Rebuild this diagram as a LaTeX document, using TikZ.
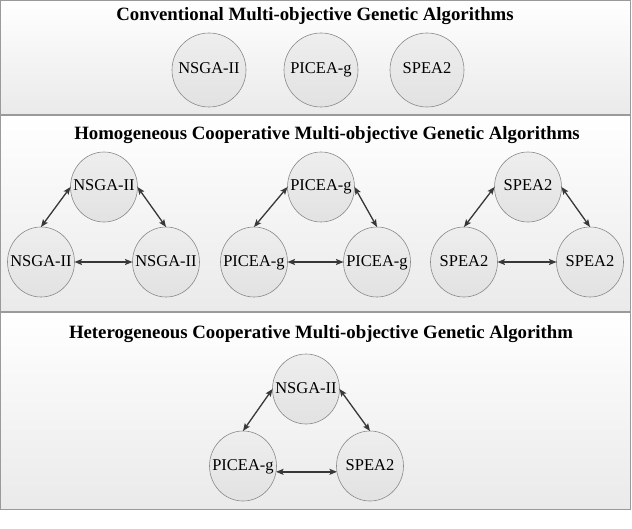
\documentclass[tikz,border=0pt]{standalone}
\usepackage{fontspec}
\setmainfont{Liberation Serif}
\usetikzlibrary{arrows.meta,shapes.geometric}
\definecolor{panelborder}{HTML}{9A9A9A}
\definecolor{panelbot}{HTML}{EAEAEA}
\definecolor{circfill}{HTML}{E2E2E2}
\definecolor{circtop}{HTML}{EEEEEE}
\definecolor{circline}{HTML}{8A8A8A}
\definecolor{arrowcol}{HTML}{383838}
\tikzset{
 panel/.style={draw=panelborder, line width=0.8bp, top color=white, bottom color=panelbot},
 algo/.style={ellipse, draw=circline, line width=0.6bp, top color=circtop, bottom color=circfill,
   minimum width=67bp, minimum height=70bp, inner sep=0pt, outer sep=0pt,
   text height=11.5bp, text depth=3.5bp,
   font=\fontsize{16.5bp}{18bp}\selectfont},
 bigalgo/.style={algo, minimum width=74bp, minimum height=74bp},
 title/.style={font=\fontsize{18.8bp}{20bp}\selectfont\bfseries, inner sep=0pt},
 link/.style={{Stealth[length=7.5bp,width=6bp,inset=1.5bp]}-{Stealth[length=7.5bp,width=6bp,inset=1.5bp]}, draw=arrowcol, fill=arrowcol, line width=1.3bp},
}
\newcommand{\algtxt}[1]{\makebox[0pt]{#1}}
\begin{document}
\begin{tikzpicture}[x=1bp,y=-1bp]
\useasboundingbox (0,0) rectangle (632,529);
\fill[white] (0,0) rectangle (632,529);
% panels
\path[panel] (0.5,0.5) rectangle (630.5,114.5);
\path[panel] (0.5,115.5) rectangle (630.5,311);
\path[panel] (0.5,312.5) rectangle (630.5,509);
% panel 1
\node[title] (t1) at (315,16) {Conventional Multi-objective Genetic Algorithms};
\node[bigalgo] (n1) at (209,70) {\algtxt{NSGA-II}};
\node[bigalgo] (p1) at (321,70) {\algtxt{PICEA-g}};
\node[bigalgo] (s1) at (427,70) {\algtxt{SPEA2}};
% panel 2
\node[title] (t2) at (327,135) {Homogeneous Cooperative Multi-objective Genetic Algorithms};
\node[algo] (at) at (104,187) {\algtxt{NSGA-II}};
\node[algo] (al) at (41,262) {\algtxt{NSGA-II}};
\node[algo] (ar) at (166,262) {\algtxt{NSGA-II}};
\node[algo] (bt) at (321,187) {\algtxt{PICEA-g}};
\node[algo] (bl) at (254,262) {\algtxt{PICEA-g}};
\node[algo] (br) at (377,262) {\algtxt{PICEA-g}};
\node[algo] (ct) at (528,187) {\algtxt{SPEA2}};
\node[algo] (cl) at (464,262) {\algtxt{SPEA2}};
\node[algo] (cr) at (590,262) {\algtxt{SPEA2}};
\foreach \g in {a,b,c}{
  \draw[link] (\g t.west) -- (\g l.north);
  \draw[link] (\g t.east) -- (\g r.north);
  \draw[link] (\g l.east) -- (\g r.west);
}
% panel 3
\node[title] (t3) at (321,334) {Heterogeneous Cooperative Multi-objective Genetic Algorithm};
\node[algo] (ht) at (306,389) {\algtxt{NSGA-II}};
\node[algo] (hl) at (243,466) {\algtxt{PICEA-g}};
\node[algo] (hr) at (370,466) {\algtxt{SPEA2}};
\draw[link] (ht.west) -- (hl.north);
\draw[link] (ht.east) -- (hr.north);
\draw[link, line width=1.8bp] (hl.-10) -- (hr.190);
\end{tikzpicture}
\end{document}
